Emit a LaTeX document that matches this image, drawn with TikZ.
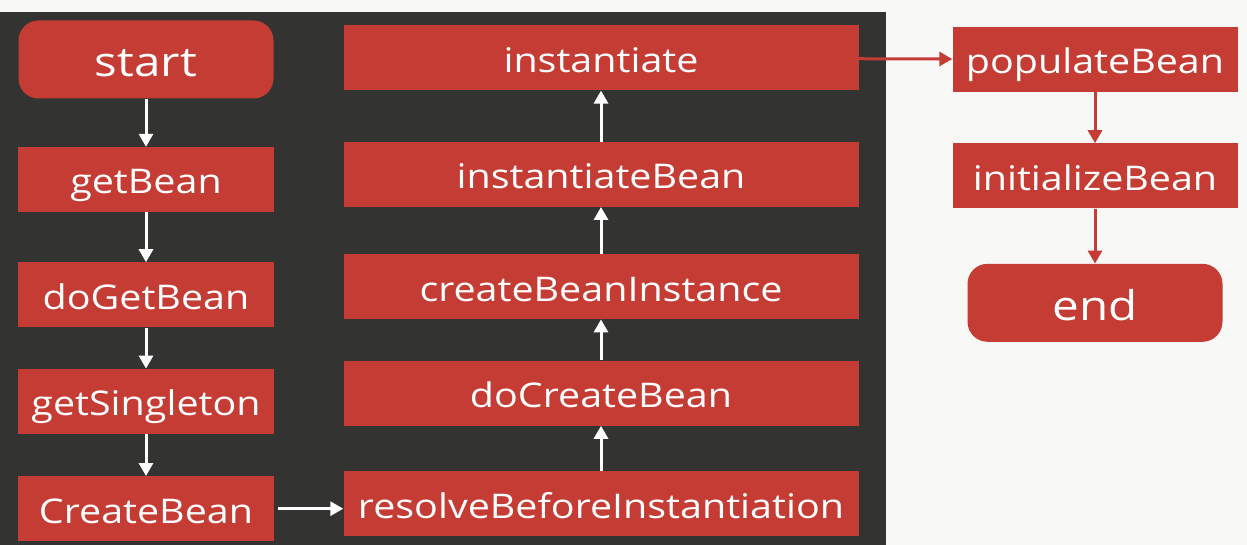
\documentclass[tikz,border=0pt]{standalone}
\usepackage{fontspec}
\setmainfont[FakeStretch=1.16]{Open Sans}
\usepackage{xcolor}
\usetikzlibrary{arrows.meta,positioning}
\definecolor{boxred}{HTML}{C43C33}
\definecolor{panel}{HTML}{333331}
\definecolor{paper}{HTML}{F8F8F6}

\begin{document}
\begin{tikzpicture}[x=1pt, y=-1pt,
    box/.style={rectangle, fill=boxred, text=white, minimum height=65pt, inner sep=0pt, text height=29pt, text depth=0pt, font=\fontsize{34}{40}\selectfont},
    leftbox/.style={box, minimum width=256pt},
    midbox/.style={box, minimum width=515pt},
    rightbox/.style={box, minimum width=285pt},
    endpoint/.style={box, rounded corners=20pt, minimum width=255pt, minimum height=78pt, text height=35pt, font=\fontsize{41}{48}\selectfont},
    flow/.style={-{Triangle[width=14pt,length=13pt]}, line width=3pt, white},
    redflow/.style={flow, boxred}]
    \useasboundingbox (0,0) rectangle (1247,545);
    \fill[paper] (0,0) rectangle (1247,545);
    \fill[panel] (0,12) rectangle (886,545);
    % left column
    \node[endpoint] (start) at (146,59.5) {start};
    \node[leftbox] (getBean) at (146,179.5) {getBean};
    \node[leftbox, below=50pt of getBean] (doGetBean) {doGetBean};
    \node[leftbox, below=41pt of doGetBean] (getSingleton) {getSingleton};
    \node[leftbox, below=42pt of getSingleton] (createBean) {CreateBean};
    % middle column, bottom up
    \node[midbox] (resolve) at (601,503.5) {resolveBeforeInstantiation};
    \node[midbox, above=45pt of resolve] (doCreateBean) {doCreateBean};
    \node[midbox, above=41pt of doCreateBean] (createBeanInstance) {createBeanInstance};
    \node[midbox, above=47pt of createBeanInstance] (instantiateBean) {instantiateBean};
    \node[midbox, above=51pt of instantiateBean] (instantiate) {instantiate};
    % right column
    \node[rightbox] (populateBean) at (1095,59.5) {populateBean};
    \node[rightbox, below=51pt of populateBean] (initializeBean) {initializeBean};
    \node[endpoint, below=55pt of initializeBean] (end) {end};
    % arrows
    \draw[flow] (start) -- (getBean);
    \draw[flow] (getBean) -- (doGetBean);
    \draw[flow] (doGetBean) -- (getSingleton);
    \draw[flow] (getSingleton) -- (createBean);
    \draw[flow, shorten <=4pt] (createBean) -- (createBean -| resolve.west);
    \draw[flow] (resolve) -- (doCreateBean);
    \draw[flow] (doCreateBean) -- (createBeanInstance);
    \draw[flow] (createBeanInstance) -- (instantiateBean);
    \draw[flow] (instantiateBean) -- (instantiate);
    \draw[redflow] (instantiate) -- (populateBean);
    \draw[redflow] (populateBean) -- (initializeBean);
    \draw[redflow] (initializeBean) -- (end);
\end{tikzpicture}
\end{document}
